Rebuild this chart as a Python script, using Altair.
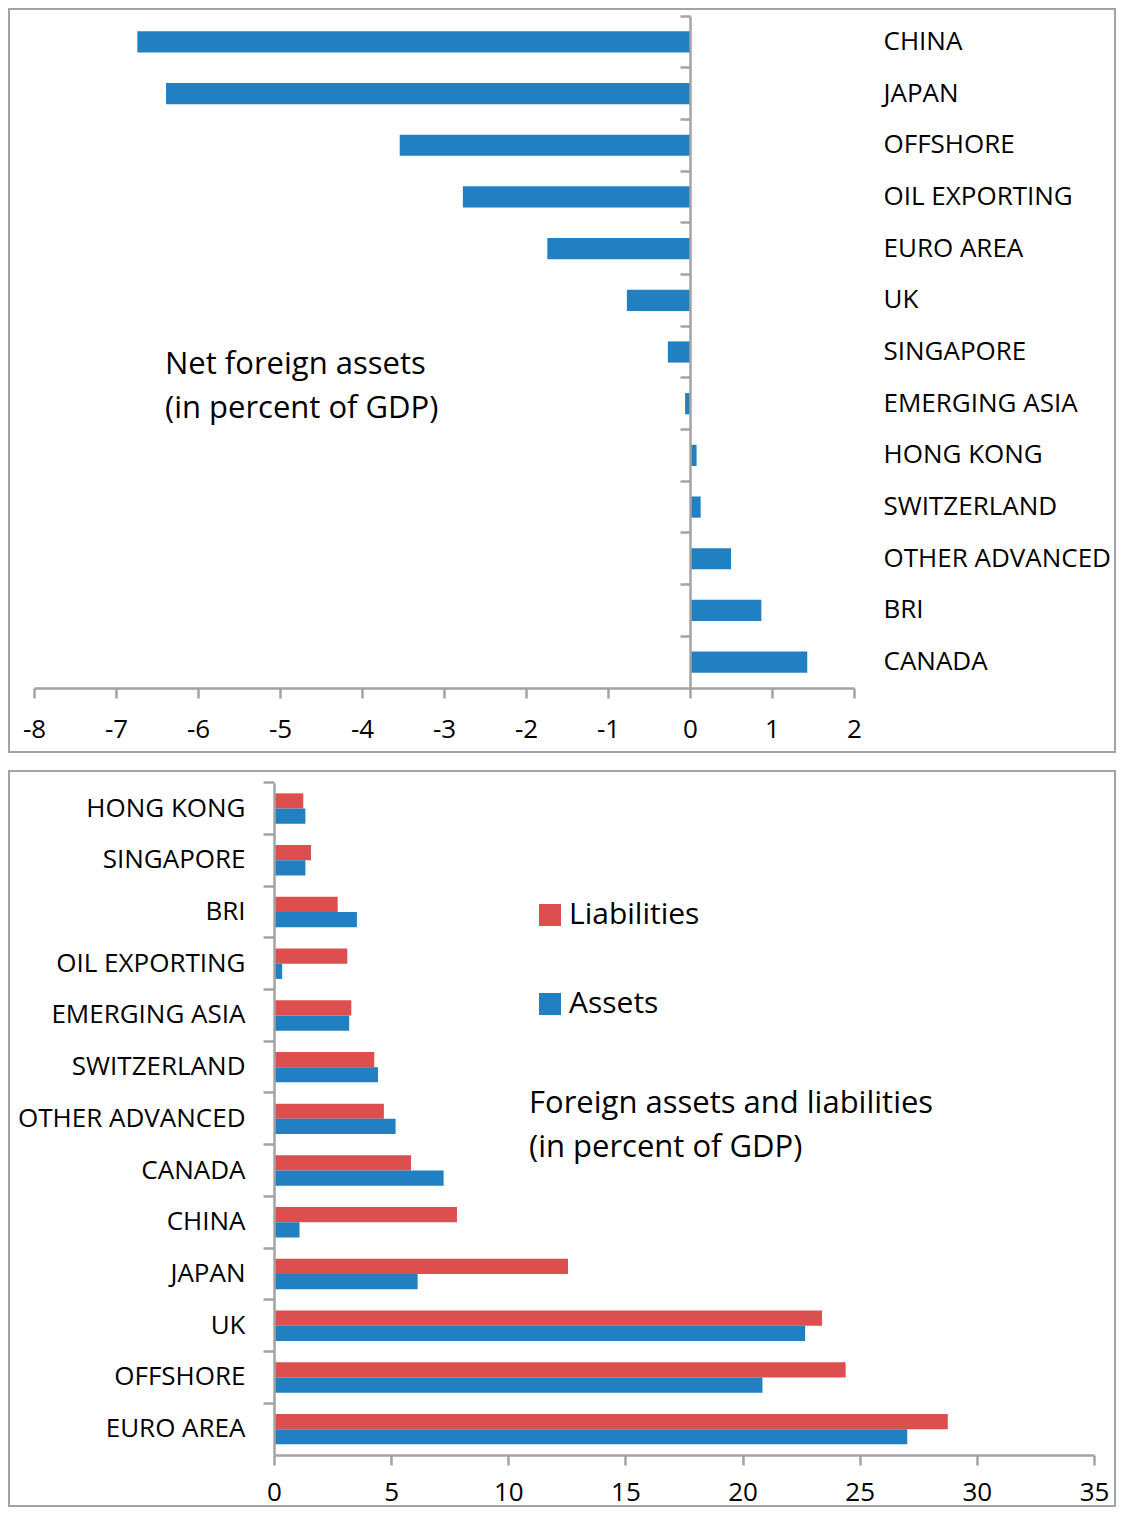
import altair as alt
import pandas as pd

# ---------------- data ----------------
net_countries = ["CHINA", "JAPAN", "OFFSHORE", "OIL EXPORTING", "EURO AREA", "UK",
                 "SINGAPORE", "EMERGING ASIA", "HONG KONG", "SWITZERLAND",
                 "OTHER ADVANCED", "BRI", "CANADA"]
net_values = [-6.74, -6.39, -3.54, -2.77, -1.74, -0.77, -0.27, -0.06, 0.08, 0.13,
              0.50, 0.87, 1.43]

al_countries = ["HONG KONG", "SINGAPORE", "BRI", "OIL EXPORTING", "EMERGING ASIA",
                "SWITZERLAND", "OTHER ADVANCED", "CANADA", "CHINA", "JAPAN", "UK",
                "OFFSHORE", "EURO AREA"]
liabilities = [1.25, 1.58, 2.72, 3.13, 3.30, 4.28, 4.69, 5.85, 7.81, 12.55, 23.39,
               24.40, 28.76]
assets = [1.34, 1.34, 3.54, 0.35, 3.21, 4.44, 5.19, 7.24, 1.09, 6.13, 22.67,
          20.85, 27.03]

series_names = ["Liabilities", "Assets"]
net_ticks = list(range(-8, 3))
al_ticks = list(range(0, 36, 5))

top_note = "Net foreign assets\n(in percent of GDP)"
bottom_note = "Foreign assets and liabilities\n(in percent of GDP)"

# ---------------- style ----------------
FONT = "Open Sans"
BLUE = "#2080C2"
RED = "#DD4F4F"
GRAY = "#A3A3A3"
W = 1106
H1 = 743
H2 = 735
SPACING = 17
LABEL_FS = 26

net_df = pd.DataFrame({"country": net_countries, "value": net_values})
al_df = pd.DataFrame({
    "country": al_countries * 2,
    "series": ["Liabilities"] * len(al_countries) + ["Assets"] * len(al_countries),
    "value": liabilities + assets,
})

axis_common = dict(
    domainColor=GRAY, domainWidth=2.5, tickColor=GRAY, tickWidth=2.5,
    labelColor="black", labelFont=FONT, labelFontSize=LABEL_FS, title=None,
    grid=False, zindex=1, labelLimit=400, labelOverlap=False, labelFlush=False,
)

# ---------------- top panel ----------------
top_range = [7, 679]

top_bars = alt.Chart(net_df).mark_bar(color=BLUE, height={"band": 0.41}).encode(
    x=alt.X("value:Q",
            scale=alt.Scale(domain=[-8, 2], range=[25, 845], nice=False, zero=False),
            axis=alt.Axis(orient="bottom", values=net_ticks, offset=-(H1 - top_range[1]),
                          tickSize=10, labelPadding=18,
                          labelExpr="'' + datum.value", **axis_common)),
    y=alt.Y("country:N", sort=net_countries,
            scale=alt.Scale(range=top_range, paddingInner=0, paddingOuter=0),
            axis=alt.Axis(orient="left", offset=-681, bandPosition=0, tickSize=10,
                          labelAlign="left", labelBaseline="middle",
                          labelPadding=-203, **axis_common)),
)

top_text = alt.Chart(pd.DataFrame({"t": [top_note]})).mark_text(
    align="left", baseline="middle", font=FONT, fontSize=31, color="black",
    lineBreak="\n", lineHeight=44,
).encode(text="t:N", x=alt.value(156), y=alt.value(356))

top = alt.layer(top_bars, top_text).properties(width=W, height=H1)

# ---------------- bottom panel ----------------
bot_range = [11.7, 684]
bot_origin = H1 + 2 + SPACING  # legend coordinates are relative to the whole chart

bot_bars = alt.Chart(al_df).mark_bar().encode(
    x=alt.X("value:Q",
            scale=alt.Scale(domain=[0, 35], range=[265, 1085], nice=False),
            axis=alt.Axis(orient="bottom", values=al_ticks, offset=-(H2 - bot_range[1]),
                          tickSize=10, labelPadding=14, **axis_common)),
    y=alt.Y("country:N", sort=al_countries,
            scale=alt.Scale(range=bot_range, paddingInner=0, paddingOuter=0),
            axis=alt.Axis(orient="left", offset=-265, bandPosition=0, tickSize=11,
                          labelAlign="right", labelBaseline="middle",
                          labelPadding=18, **axis_common)),
    yOffset=alt.YOffset("series:N", sort=series_names,
                        scale=alt.Scale(paddingInner=0, paddingOuter=0.7)),
    color=alt.Color("series:N",
                    scale=alt.Scale(domain=series_names, range=[RED, BLUE]),
                    legend=alt.Legend(orient="none", legendX=526,
                                      legendY=bot_origin + 129,
                                      title=None, symbolType="square", symbolSize=484,
                                      symbolStrokeWidth=0, symbolOpacity=1,
                                      labelFont=FONT, labelFontSize=30,
                                      labelColor="black", labelOffset=4,
                                      rowPadding=59, padding=0)),
)

bot_text = alt.Chart(pd.DataFrame({"t": [bottom_note]})).mark_text(
    align="left", baseline="middle", font=FONT, fontSize=31, color="black",
    lineBreak="\n", lineHeight=44,
).encode(text="t:N", x=alt.value(520), y=alt.value(333))

bottom = alt.layer(bot_bars, bot_text).properties(width=W, height=H2)

chart = alt.vconcat(top, bottom, spacing=SPACING).properties(padding=0).configure(
    font=FONT
).configure_view(stroke=GRAY, strokeWidth=2)

chart.save("out.html", embed_options={"renderer": "svg", "actions": False})
